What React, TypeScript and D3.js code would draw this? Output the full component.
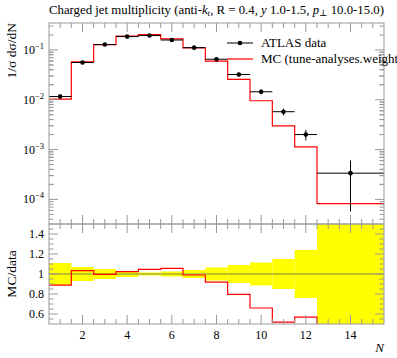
import React, { useRef, useEffect } from 'react';
import * as d3 from 'd3';

// bin edges in N, last bin is wide (12.5 - 15.5)
const binEdges = [0.5, 1.5, 2.5, 3.5, 4.5, 5.5, 6.5, 7.5, 8.5, 9.5, 10.5, 11.5, 12.5, 15.5];
const dataX = [1, 2, 3, 4, 5, 6, 7, 8, 9, 10, 11, 12, 14];
const dataY = [0.0116, 0.0558, 0.128, 0.185, 0.194, 0.158, 0.111, 0.065, 0.0321, 0.01445, 0.00575, 0.002, 0.000336];
// relative errors (up / down)
const errUp = [0.11, 0.07, 0.05, 0.03, 0.015, 0.025, 0.04, 0.065, 0.09, 0.115, 0.15, 0.24, 0.79];
const errDown = [0.11, 0.07, 0.05, 0.03, 0.015, 0.025, 0.04, 0.065, 0.09, 0.115, 0.15, 0.24, 0.83];
const mcY = [0.0103, 0.0577, 0.1276, 0.1893, 0.2031, 0.167, 0.1099, 0.0597, 0.02555, 0.00954, 0.00298, 0.001136, 0.000082];

const xTickLabels = [2, 4, 6, 8, 10, 12, 14];
const ratioTickLabels = [0.6, 0.8, 1, 1.2, 1.4];
const decades = [-4, -3, -2, -1];
const legendLabels = ['ATLAS data', 'MC (tune-analyses.weight'];

const FONT = '"Liberation Serif", "DejaVu Serif", serif';

const App = () => {
  const ref = useRef(null);

  useEffect(() => {
    const svg = d3.select(ref.current);
    svg.selectAll('*').remove();

    const left = 49, right = 384;
    const top = 23, mid = 224, bottom = 324;
    const axisCol = '#999';

    const x = d3.scaleLinear().domain([0.5, 15.5]).range([left, right]);
    const y = d3.scaleLog().domain([Math.pow(10, -4.494), Math.pow(10, -0.46)]).range([mid, top]);
    const r = d3.scaleLinear().domain([0.5, 1.5]).range([bottom, mid]);

    const defs = svg.append('defs');
    defs.append('clipPath').attr('id', 'clipMain')
      .append('rect').attr('x', left).attr('y', top).attr('width', right - left).attr('height', mid - top);
    defs.append('clipPath').attr('id', 'clipRatio')
      .append('rect').attr('x', left).attr('y', mid).attr('width', right - left).attr('height', bottom - mid);

    // title
    const title = svg.append('text')
      .attr('x', (left + right) / 2).attr('y', 14)
      .attr('text-anchor', 'middle')
      .attr('font-family', FONT).attr('font-size', 12.8);
    title.append('tspan').text('Charged jet multiplicity (anti-');
    title.append('tspan').attr('font-style', 'italic').text('k');
    title.append('tspan').attr('font-style', 'italic').attr('font-size', 9).attr('dy', 2).text('t');
    title.append('tspan').attr('dy', -2).text(', R = 0.4, ');
    title.append('tspan').attr('font-style', 'italic').text('y');
    title.append('tspan').text(' 1.0-1.5, ');
    title.append('tspan').attr('font-style', 'italic').text('p');
    title.append('tspan').attr('font-size', 9).attr('dy', 2).text('⊥');
    title.append('tspan').attr('dy', -2).text(' 10.0-15.0)');

    // ---- main panel ----
    const main = svg.append('g');

    const stepPts = (vals, yf) => binEdges.map((e, i) => [x(e), yf(vals[Math.min(i, vals.length - 1)])]);
    const stepLine = d3.line().curve(d3.curveStepAfter);

    // MC histogram
    main.append('path')
      .attr('clip-path', 'url(#clipMain)')
      .attr('d', stepLine(stepPts(mcY, y)))
      .attr('fill', 'none').attr('stroke', '#ff0000').attr('stroke-width', 1.2);

    // data points with error bars
    const pts = main.append('g').attr('clip-path', 'url(#clipMain)');
    dataX.forEach((xv, i) => {
      const yv = dataY[i];
      pts.append('line')
        .attr('x1', x(binEdges[i])).attr('x2', x(binEdges[i + 1]))
        .attr('y1', y(yv)).attr('y2', y(yv))
        .attr('stroke', '#000').attr('stroke-width', 1);
      pts.append('line')
        .attr('x1', x(xv)).attr('x2', x(xv))
        .attr('y1', y(yv * (1 + errUp[i]))).attr('y2', y(yv * (1 - errDown[i])))
        .attr('stroke', '#000').attr('stroke-width', 1);
      pts.append('circle')
        .attr('cx', x(xv)).attr('cy', y(yv)).attr('r', 2.3).attr('fill', '#000');
    });

    // ---- ratio panel ----
    const ratio = svg.append('g');
    const band = ratio.append('g').attr('clip-path', 'url(#clipRatio)');
    dataX.forEach((xv, i) => {
      const hi = 1 + errUp[i];
      const lo = 1 - errDown[i];
      band.append('rect')
        .attr('x', x(binEdges[i])).attr('width', x(binEdges[i + 1]) - x(binEdges[i]))
        .attr('y', r(hi)).attr('height', r(lo) - r(hi))
        .attr('fill', '#ffff00');
    });
    ratio.append('line')
      .attr('x1', left).attr('x2', right).attr('y1', r(1)).attr('y2', r(1))
      .attr('stroke', '#666').attr('stroke-width', 0.8);
    const ratioVals = mcY.map((m, i) => m / dataY[i]);
    ratio.append('path')
      .attr('clip-path', 'url(#clipRatio)')
      .attr('d', stepLine(stepPts(ratioVals, r)))
      .attr('fill', 'none').attr('stroke', '#ff0000').attr('stroke-width', 1.2);

    // ---- frames and ticks ----
    const frame = svg.append('g').attr('stroke', axisCol).attr('stroke-width', 1).attr('fill', 'none');
    frame.append('rect').attr('x', left).attr('y', top).attr('width', right - left).attr('height', mid - top);
    frame.append('rect').attr('x', left).attr('y', mid).attr('width', right - left).attr('height', bottom - mid);

    const tick = (x1, y1, x2, y2) => frame.append('line').attr('x1', x1).attr('y1', y1).attr('x2', x2).attr('y2', y2);

    // x ticks, both panels, top and bottom
    d3.range(1, 15.01, 0.5).forEach(v => {
      const major = v % 2 === 0;
      const len = major ? 9 : 5;
      const px = x(v);
      tick(px, top, px, top + len);
      tick(px, mid, px, mid - len);
      tick(px, mid, px, mid + len);
      tick(px, bottom, px, bottom - len);
    });

    // main log y ticks
    decades.forEach(d => {
      const base = Math.pow(10, d);
      tick(left, y(base), left + 9, y(base));
      tick(right, y(base), right - 9, y(base));
      for (let k = 2; k <= 9; k++) {
        [base * k, base * k / 10].forEach(v => {
          const [lo, hi] = y.domain();
          if (v < lo || v > hi) return;
          tick(left, y(v), left + 4.5, y(v));
          tick(right, y(v), right - 4.5, y(v));
        });
      }
    });

    // ratio y ticks
    d3.range(0.55, 1.5, 0.05).forEach(v => {
      const major = Math.abs(Math.round(v * 5) - v * 5) < 1e-6;
      const len = major ? 9 : 4.5;
      tick(left, r(v), left + len, r(v));
      tick(right, r(v), right - len, r(v));
    });

    // tick labels
    const labels = svg.append('g').attr('font-family', FONT).attr('font-size', 12).attr('fill', '#000');
    decades.forEach(d => {
      const t = labels.append('text')
        .attr('x', 44).attr('y', y(Math.pow(10, d)) + 4)
        .attr('text-anchor', 'end');
      t.append('tspan').text('10');
      t.append('tspan').attr('font-size', 8.5).attr('dy', -5).text('−' + Math.abs(d));
    });
    ratioTickLabels.forEach(v => {
      labels.append('text')
        .attr('x', 44).attr('y', r(v) + 4)
        .attr('text-anchor', 'end')
        .text(String(v));
    });
    xTickLabels.forEach(v => {
      labels.append('text')
        .attr('x', x(v)).attr('y', 339)
        .attr('text-anchor', 'middle')
        .text(String(v));
    });

    // axis labels
    labels.append('text')
      .attr('transform', `translate(16,${top}) rotate(-90)`)
      .attr('text-anchor', 'end')
      .attr('font-size', 13.5)
      .text('1/σ dσ/dN');
    labels.append('text')
      .attr('transform', `translate(16,${r(1)}) rotate(-90)`)
      .attr('text-anchor', 'middle')
      .attr('font-size', 13.5)
      .text('MC/data');
    labels.append('text')
      .attr('x', right).attr('y', 352)
      .attr('text-anchor', 'end')
      .attr('font-style', 'italic').attr('font-size', 13)
      .text('N');

    // legend
    const leg = svg.append('g').attr('font-family', FONT).attr('font-size', 13);
    leg.append('line').attr('x1', 227).attr('x2', 253).attr('y1', 43).attr('y2', 43)
      .attr('stroke', '#000').attr('stroke-width', 1);
    leg.append('circle').attr('cx', 240).attr('cy', 43).attr('r', 2.3).attr('fill', '#000');
    leg.append('text').attr('x', 261).attr('y', 47).text(legendLabels[0]);
    leg.append('line').attr('x1', 227).attr('x2', 253).attr('y1', 59).attr('y2', 59)
      .attr('stroke', '#ff0000').attr('stroke-width', 1.2);
    leg.append('text').attr('x', 261).attr('y', 63).text(legendLabels[1]);
  }, []);

  return (
    <div style={{ position: 'absolute', left: 0, top: 0 }}>
      <svg ref={ref} width={397} height={358} style={{ display: 'block', background: '#fff' }} />
    </div>
  );
};

export default App;
